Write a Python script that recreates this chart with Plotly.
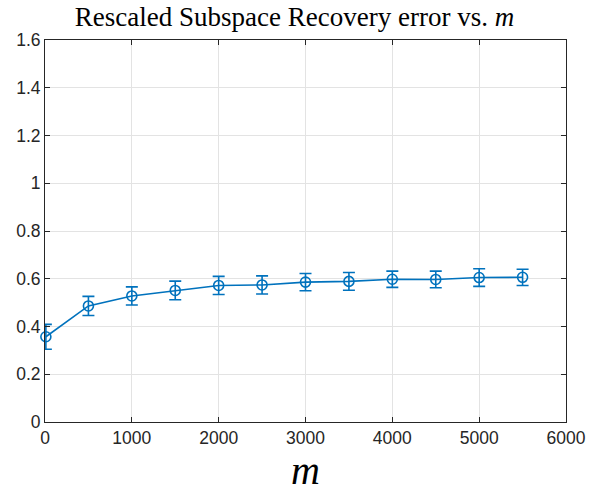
import plotly.graph_objects as go

m_values = [10, 500, 1000, 1500, 2000, 2500, 3000, 3500, 4000, 4500, 5000, 5500]
err_mean = [0.357, 0.486, 0.528, 0.551, 0.572, 0.574, 0.586, 0.589, 0.598, 0.597, 0.605, 0.606]
err_std = [0.052, 0.040, 0.038, 0.039, 0.038, 0.038, 0.036, 0.037, 0.034, 0.035, 0.037, 0.034]

y_ticks = [0, 0.2, 0.4, 0.6, 0.8, 1, 1.2, 1.4, 1.6]
x_ticks = [0, 1000, 2000, 3000, 4000, 5000, 6000]

blue = "#0072BD"

fig = go.Figure()
fig.add_trace(go.Scatter(
    x=m_values, y=err_mean, mode="lines+markers",
    line=dict(color=blue, width=1.6),
    marker=dict(symbol="circle-open", size=10, color=blue, line=dict(width=1.6)),
    error_y=dict(type="data", array=err_std, visible=True, color=blue, thickness=1.6, width=6),
    showlegend=False, cliponaxis=False,
))

axis_common = dict(
    showline=True, linecolor="#262626", linewidth=1, mirror="ticks",
    ticks="inside", ticklen=5, tickcolor="#262626",
    showgrid=True, gridcolor="#e3e3e3", gridwidth=1, zeroline=False,
    automargin=False,
    tickfont=dict(family="Liberation Sans, Arial, sans-serif", size=17.5, color="#262626"),
)

fig.update_layout(
    width=589, height=494,
    margin=dict(l=45, r=23, t=40, b=72),
    paper_bgcolor="white", plot_bgcolor="white",
    title=dict(
        text="Rescaled Subspace Recovery error vs. <i>m</i>",
        font=dict(family="Liberation Serif, DejaVu Serif, serif", size=27, color="black"),
        x=0.5, xanchor="center", y=0.966, yanchor="middle",
    ),
    xaxis=dict(range=[0, 6000], tickvals=x_ticks,
               title=dict(text="<i>m</i>", font=dict(family="Liberation Serif, DejaVu Serif, serif", size=40, color="black"), standoff=4),
               **axis_common),
    yaxis=dict(range=[0, 1.6], tickvals=y_ticks, **axis_common),
)

fig.write_html("out.html", config={"displayModeBar": False},
               post_script="document.body.style.margin='0';document.body.style.padding='0';document.body.style.overflow='hidden';")
